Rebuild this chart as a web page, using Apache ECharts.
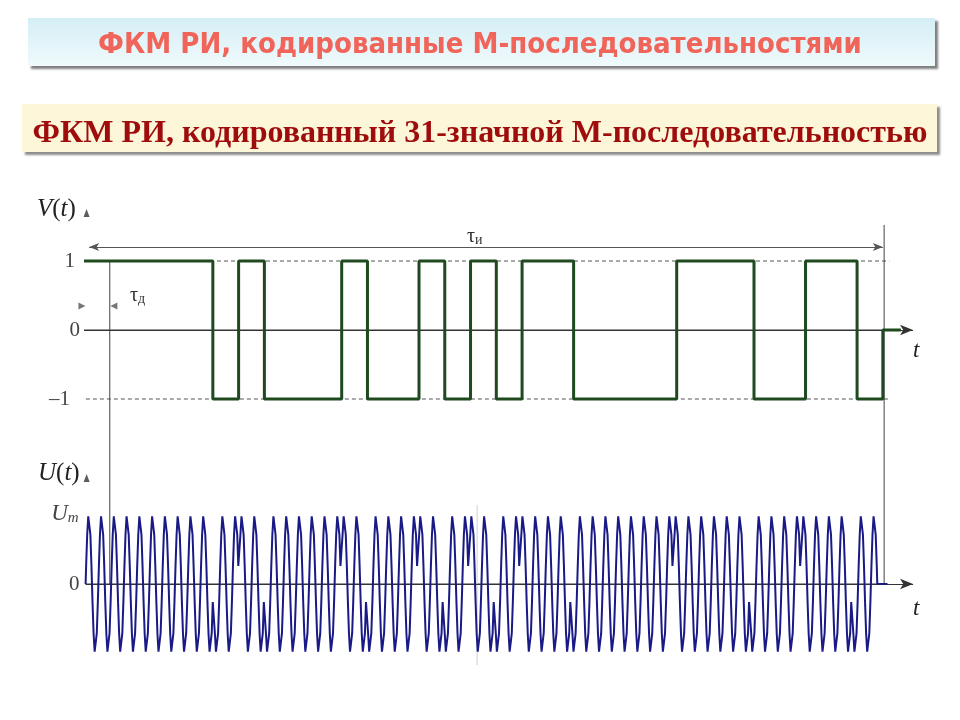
<!DOCTYPE html>
<html><head><meta charset="utf-8">
<script src="https://cdn.jsdelivr.net/npm/echarts@6/dist/echarts.min.js"></script>
<style>html,body{margin:0;padding:0;background:#fff}#c{width:960px;height:720px}</style>
</head><body><div id="c"></div>
<script>
// ---------- data ----------
// 31-chip M-sequence (+1 / -1)
const chipCodes = [1,1,1,1,1,-1,1,-1,-1,-1,1,-1,-1,1,-1,1,-1,1,1,-1,-1,-1,-1,1,1,1,-1,-1,1,1,-1];
// one carrier period (12 samples), two periods per chip
const carrierPeriod = [0.259,0.707,0.966,0.966,0.707,0.259,-0.259,-0.707,-0.966,-0.966,-0.707,-0.259];
const periodsPerChip = 2;
const vTickLabels = {'-1':'–1','0':'0','1':'1'};
const uTickLabels = {'0':'0','1':'Um'};

// ---------- build series data ----------
const nChips = chipCodes.length;
const vData = chipCodes.map((c,k)=>[k,c]);
vData.push([nChips, chipCodes[nChips-1]], [nChips, 0], [nChips+0.7, 0]);

const uData = [[0,0]];
const spc = carrierPeriod.length*periodsPerChip;
chipCodes.forEach((c,k)=>{
  for(let p=0;p<periodsPerChip;p++){
    carrierPeriod.forEach((s,j)=>{
      uData.push([k+(p*carrierPeriod.length+j+0.5)/spc, c*s]);
    });
  }
});
uData.push([nChips,0],[nChips+0.4,0]);

const gray='#444', serif='"Liberation Serif","Times New Roman",serif';
const chart = echarts.init(document.getElementById('c'), null, {renderer:'canvas'});

function seg(name, pts, color, type, xi){
  return {name, type:'line', xAxisIndex:xi, yAxisIndex:xi, data:pts, symbol:'none', clip:false, silent:true,
    lineStyle:{color, width:1, type:type||'solid'}, z:2};
}
function axisArrow(xEnd){
  return {silent:true, symbol:['none','arrow'], symbolSize:[8,13], label:{show:false},
    lineStyle:{color:'#333', width:1.2, type:'solid'},
    data:[[{coord:[0,0]},{coord:[xEnd,0]}]]};
}
const it = (sz)=>({fontFamily:serif, fontStyle:'italic', fontWeight:'normal', fontSize:sz, color:'#222'});
const up = (sz)=>({fontFamily:serif, fontStyle:'normal', fontWeight:'normal', fontSize:sz, color:'#222'});

const option = {
  animation:false,
  backgroundColor:'#fff',
  graphic:[
    {type:'rect', shape:{x:28,y:18,width:907,height:48}, z:-10,
     style:{fill:new echarts.graphic.LinearGradient(0,0,0,1,[{offset:0,color:'#d4eef5'},{offset:1,color:'#f0fafc'}]),
       shadowColor:'rgba(0,0,0,0.5)', shadowBlur:2, shadowOffsetX:3, shadowOffsetY:3}},
    {type:'rect', shape:{x:22,y:104,width:915,height:48}, z:-10,
     style:{fill:'#fdf6d8', shadowColor:'rgba(0,0,0,0.45)', shadowBlur:2, shadowOffsetX:3, shadowOffsetY:3}}
  ],
  title:[
    {text:'ФКМ РИ, кодированные М-последовательностями', left:'center', top:26,
     textStyle:{fontFamily:'"DejaVu Sans Condensed","DejaVu Sans"', fontWeight:'bold', fontSize:29, color:'#f0645a'}},
    {text:'ФКМ РИ, кодированный 31-значной М-последовательностью', left:'center', top:113,
     textStyle:{fontFamily:serif, fontWeight:'bold', fontSize:32, color:'#9e0c0c'}},
    {text:'{i|V}{n|(}{i|t}{n|)}', left:32, top:192,
     textStyle:{fontWeight:'normal', rich:{i:it(25), n:up(25)}}},
    {text:'{i|U}{n|(}{i|t}{n|)}', left:33, top:456,
     textStyle:{fontWeight:'normal', rich:{i:it(25), n:up(25)}}},
    {text:'{a|τ}{b|и}', left:462, top:216,
     textStyle:{fontWeight:'normal', rich:{a:Object.assign(up(20),{color:'#333', lineHeight:26, verticalAlign:'bottom'}),
                      b:Object.assign(up(14),{color:'#333', lineHeight:20, verticalAlign:'bottom'})}}},
    {text:'{a|τ}{b|д}', left:125, top:275,
     textStyle:{fontWeight:'normal', rich:{a:Object.assign(up(20),{color:'#333', lineHeight:26, verticalAlign:'bottom'}),
                      b:Object.assign(up(14),{color:'#333', lineHeight:20, verticalAlign:'bottom'})}}},
    {text:'t', left:908, top:334, textStyle:it(23)},
    {text:'t', left:908, top:592, textStyle:it(23)}
  ],
  grid:[
    {left:84, top:123, width:837.5, height:414, outerBoundsMode:'none', containLabel:false},
    {left:85.6, top:444, width:830, height:280, outerBoundsMode:'none', containLabel:false}
  ],
  xAxis:[
    {type:'value', gridIndex:0, min:0, max:32.5, show:false},
    {type:'value', gridIndex:1, min:0, max:32.5, show:false}
  ],
  yAxis:[
    {type:'value', gridIndex:0, min:-3, max:3, interval:1,
     axisLine:{show:false}, axisTick:{show:false}, splitLine:{show:false},
     axisLabel:{margin:4, formatter:v=>{const s=vTickLabels[String(v)]; if(!s) return ''; return v===1?'{p|1}':(v===-1?'{m|–1}':'{z|0}');},
       rich:{p:{fontFamily:serif,fontSize:21,color:gray,padding:[0,5,0,0]}, m:{fontFamily:serif,fontSize:21,color:gray,padding:[0,10,0,0]}, z:{fontFamily:serif,fontSize:21,color:gray}}}},
    {type:'value', gridIndex:1, min:-2, max:2, interval:1,
     axisLine:{show:false}, axisTick:{show:false}, splitLine:{show:false},
     axisLabel:{margin:6, formatter:v=>{const s=uTickLabels[String(v)]; if(!s) return ''; return v===1?'{u|U}{s|m}':'{z|0}';},
       rich:{u:{fontFamily:serif,fontStyle:'italic',fontSize:23,color:gray}, s:{fontFamily:serif,fontStyle:'italic',fontSize:15,color:gray,padding:[9,1,0,0]}, z:{fontFamily:serif,fontSize:21,color:gray}}}}
  ],
  series:[
    seg('level+1', [[0,1],[31.25,1]], '#555', [4,3], 0),
    seg('level-1', [[-0.47,-1],[31.25,-1]], '#555', [4,3], 0),
    Object.assign(seg('zero V', [[0,0],[31,0]], '#333', null, 0), {markLine:axisArrow(32.17)}),
    seg('chip mark', [[1,1],[1,-3.681]], '#444', null, 0),
    seg('pulse end', [[31.05,1.522],[31.05,-3.667]], '#444', null, 0),
    Object.assign(seg('tau_i', [], '#555', null, 0), {markLine:{silent:true, symbol:['arrow','arrow'], symbolSize:[6,10], label:{show:false},
      lineStyle:{color:'#555', width:1, type:'solid'}, data:[[{coord:[0.2,1.203]},{coord:[31,1.203]}]]}}),
    {name:'arrowheads V', type:'scatter', xAxisIndex:0, yAxisIndex:0, clip:false, silent:true, symbol:'triangle',
     itemStyle:{color:'#555'}, z:3,
     data:[{value:[-0.08,0.348], symbolRotate:-90, symbolSize:[7,7]},
           {value:[1.16,0.348], symbolRotate:90, symbolSize:[7,7]},
           {value:[0.1,1.696], symbolSize:[6,8], itemStyle:{color:'#333'}}]},
    {name:'V(t)', type:'line', xAxisIndex:0, yAxisIndex:0, data:vData, step:'end', symbol:'none', clip:false,
     lineStyle:{color:'#1f4a1f', width:3}, z:5},

    Object.assign(seg('zero U', [[0,0],[31,0]], '#333', null, 1), {markLine:axisArrow(32.4)}),
    seg('faint', [[15.33,1.13],[15.33,-1.16]], '#cfcfcf', null, 1),
    {name:'arrowheads U', type:'scatter', xAxisIndex:1, yAxisIndex:1, clip:false, silent:true, symbol:'triangle',
     itemStyle:{color:'#333'}, z:3, data:[{value:[0.04,1.514], symbolSize:[6,8]}]},
    {name:'U(t)', type:'line', xAxisIndex:1, yAxisIndex:1, data:uData, symbol:'none', clip:false,
     lineStyle:{color:'#1a1a86', width:2}, z:5}
  ]
};
chart.setOption(option);
</script></body></html>
